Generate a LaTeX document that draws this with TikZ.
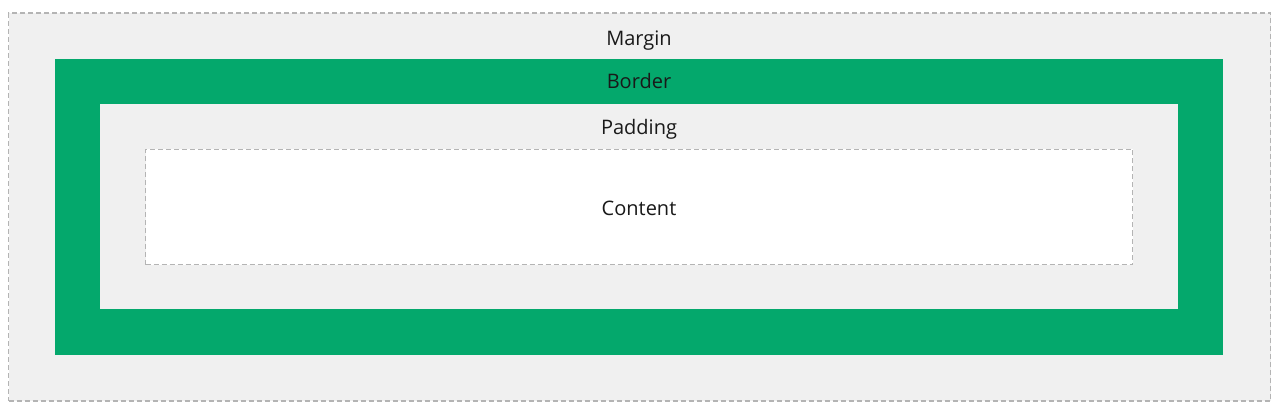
\documentclass[tikz,border=0pt]{standalone}
\usepackage{fontspec}
\setmainfont{Open Sans}
\definecolor{boxgray}{HTML}{F0F0F0}
\definecolor{bordergreen}{HTML}{04A86C}
\definecolor{dashgray}{HTML}{B4B4B4}
\begin{document}
\begin{tikzpicture}[x=0.75pt,y=-0.75pt,
  layer/.style={inner sep=0pt, outer sep=0pt, rectangle},
  dashbox/.style={layer, draw=dashgray, line width=1.1pt, dash pattern=on 3.75pt off 2.25pt},
  lbl/.style={anchor=base, inner sep=0pt, font=\fontsize{15pt}{18pt}\selectfont, text=black!90}]
\useasboundingbox[fill=white] (0,0) rectangle (1280,413);
\node[dashbox, fill=boxgray, minimum width=946.5pt, minimum height=291pt] (margin) at (639.5,207) {};
\node[layer, fill=bordergreen, minimum width=876pt, minimum height=222pt] (border) at (639,207) {};
\node[layer, fill=boxgray, minimum width=808.5pt, minimum height=153.75pt] (padding) at (639,206.5) {};
\node[dashbox, fill=white, minimum width=740.25pt, minimum height=86.25pt] (content) at (639,207) {};
\node[lbl] (tmargin) at (639,45.5) {Margin};
\node[lbl] (tborder) at (639,89) {Border};
\node[lbl] (tpadding) at (639,135) {Padding};
\node[lbl] (tcontent) at (639,215) {Content};
\end{tikzpicture}
\end{document}
